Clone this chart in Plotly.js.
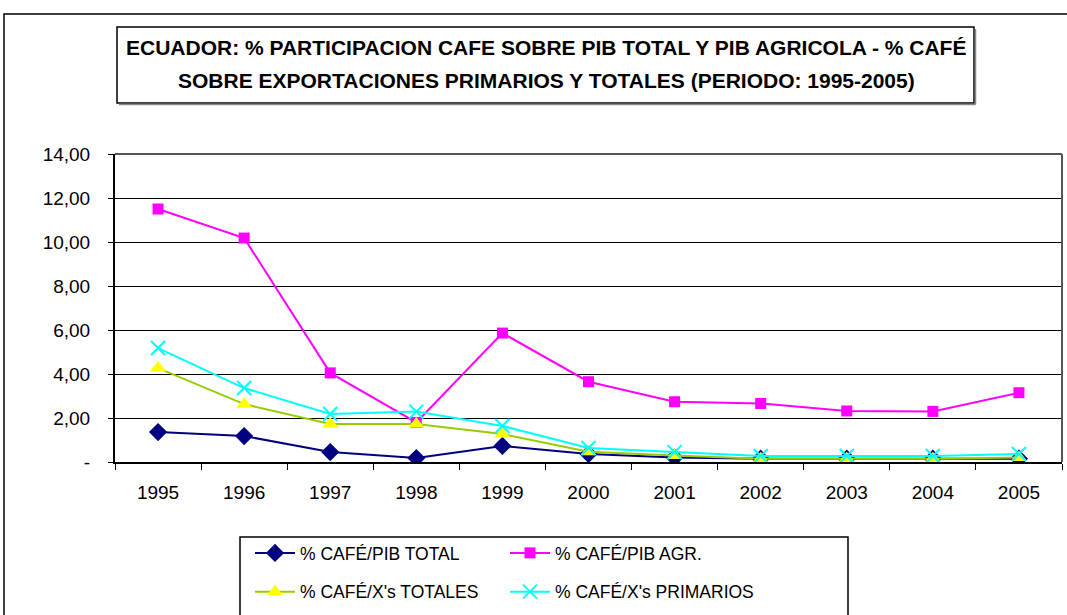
<!DOCTYPE html>
<html><head><meta charset="utf-8">
<script src="https://cdn.plot.ly/plotly-3.0.1.min.js"></script>
<style>html,body{margin:0;padding:0;background:#fff}#chart{width:1067px;height:615px}</style>
</head><body><div id="chart"></div><script>
const years = ['1995','1996','1997','1998','1999','2000','2001','2002','2003','2004','2005'];
const cafePibTotal = [1.36, 1.18, 0.45, 0.18, 0.73, 0.36, 0.20, 0.15, 0.15, 0.15, 0.15];
const cafePibAgr = [11.50, 10.18, 4.05, 1.80, 5.86, 3.65, 2.74, 2.66, 2.32, 2.30, 3.15];
const cafeXTotales = [4.27, 2.63, 1.73, 1.73, 1.27, 0.47, 0.30, 0.15, 0.15, 0.15, 0.20];
const cafeXPrimarios = [5.18, 3.36, 2.18, 2.29, 1.64, 0.64, 0.45, 0.27, 0.27, 0.27, 0.36];
const seriesNames = ['% CAFÉ/PIB TOTAL', '% CAFÉ/PIB AGR.', "% CAFÉ/X's TOTALES", "% CAFÉ/X's PRIMARIOS"];
const yTickVals = [0, 2, 4, 6, 8, 10, 12, 14];
const yTickText = ['-', '2,00', '4,00', '6,00', '8,00', '10,00', '12,00', '14,00'];
const titleLine1 = 'ECUADOR: % PARTICIPACION CAFE SOBRE PIB TOTAL Y PIB AGRICOLA - % CAFÉ';
const titleLine2 = 'SOBRE EXPORTACIONES PRIMARIOS Y TOTALES (PERIODO: 1995-2005)';

const L = 115, R = 1062, T = 154, B = 462;
const W = R - L, H = B - T;
const px = x => (x - L) / W;
const py = y => (B - y) / H;
const FONT = 'Liberation Sans, Arial, sans-serif';

const traces = [
  {x: years, y: cafePibTotal, name: seriesNames[0], mode: 'lines+markers', legend: 'legend', legendgroup: 'a',
   line: {color: '#000080', width: 2}, marker: {symbol: 'diamond', size: 14, color: '#000080'}},
  {x: years, y: cafePibAgr, name: seriesNames[1], mode: 'lines+markers', legend: 'legend2', legendgroup: 'b',
   line: {color: '#FF00FF', width: 2}, marker: {symbol: 'square', size: 11, color: '#FF00FF'}},
  {x: years, y: cafeXTotales, name: seriesNames[2], mode: 'lines+markers', legend: 'legend', legendgroup: 'c',
   line: {color: '#99CC00', width: 2}, marker: {symbol: 'triangle-up', size: 14, color: '#FFFF00'}},
  {x: years, y: cafeXPrimarios, name: seriesNames[3], mode: 'lines+markers', legend: 'legend2', legendgroup: 'd',
   line: {color: '#00FFFF', width: 2}, marker: {symbol: 'x-thin-open', size: 14, color: '#00FFFF', line: {color: '#00FFFF', width: 2}}}
];

const legendCommon = {
  orientation: 'v', font: {family: FONT, size: 17.5, color: '#000'}, bgcolor: 'rgba(0,0,0,0)',
  borderwidth: 0, tracegroupgap: 13, itemwidth: 40, xanchor: 'left', yanchor: 'top', itemclick: false
};

const layout = {
  width: 1067, height: 615,
  margin: {l: L, r: 1067 - R, t: T, b: 615 - B, pad: 0, autoexpand: false},
  paper_bgcolor: '#fff', plot_bgcolor: '#fff',
  showlegend: true,
  legend: Object.assign({}, legendCommon, {x: px(250), y: py(535)}),
  legend2: Object.assign({}, legendCommon, {x: px(505), y: py(535)}),
  xaxis: {
    type: 'category', range: [-0.5, 10.5], tickson: 'boundaries', ticks: 'outside', ticklen: 6, tickcolor: '#000',
    showline: true, linecolor: '#000', linewidth: 2, showgrid: false, zeroline: false, automargin: false,
    tickfont: {family: FONT, size: 19, color: '#000'}, ticklabelstandoff: 12, fixedrange: true
  },
  yaxis: {
    range: [0, 14], tickvals: yTickVals, ticktext: yTickText, ticks: 'outside', ticklen: 5, tickcolor: '#000',
    showline: true, linecolor: '#000', linewidth: 2, showgrid: true, gridcolor: '#000', gridwidth: 1, automargin: false,
    zeroline: false, tickfont: {family: FONT, size: 19, color: '#000'}, ticklabelstandoff: 14, fixedrange: true
  },
  shapes: [
    {type: 'rect', xref: 'paper', yref: 'paper', x0: px(4), x1: px(1075), y0: py(14), y1: py(630), line: {color: '#000', width: 1.5}},
    {type: 'rect', xref: 'paper', yref: 'paper', x0: px(117), x1: px(974), y0: py(27), y1: py(103), line: {color: '#000', width: 1.5}},
    {type: 'line', xref: 'paper', yref: 'paper', x0: px(975.5), x1: px(975.5), y0: py(29), y1: py(104.5), line: {color: '#888', width: 1.5}},
    {type: 'line', xref: 'paper', yref: 'paper', x0: px(119), x1: px(975.5), y0: py(104.5), y1: py(104.5), line: {color: '#888', width: 1.5}},
    {type: 'line', xref: 'paper', yref: 'paper', x0: 0, x1: 1, y0: 1, y1: 1, line: {color: '#555', width: 2}},
    {type: 'line', xref: 'paper', yref: 'paper', x0: 1, x1: 1, y0: 0, y1: 1, line: {color: '#555', width: 2}},
    {type: 'rect', xref: 'paper', yref: 'paper', x0: px(240), x1: px(848), y0: py(537), y1: py(630), line: {color: '#000', width: 1.5}}
  ],
  annotations: [
    {xref: 'paper', yref: 'paper', x: px(546), y: py(47), text: '<b>' + titleLine1 + '</b>', showarrow: false,
     xanchor: 'center', yanchor: 'middle', font: {family: FONT, size: 21, color: '#000'}},
    {xref: 'paper', yref: 'paper', x: px(546), y: py(80), text: '<b>' + titleLine2 + '</b>', showarrow: false,
     xanchor: 'center', yanchor: 'middle', font: {family: FONT, size: 21, color: '#000'}}
  ]
};

Plotly.newPlot('chart', traces, layout, {displayModeBar: false, staticPlot: true});
</script></body></html>
